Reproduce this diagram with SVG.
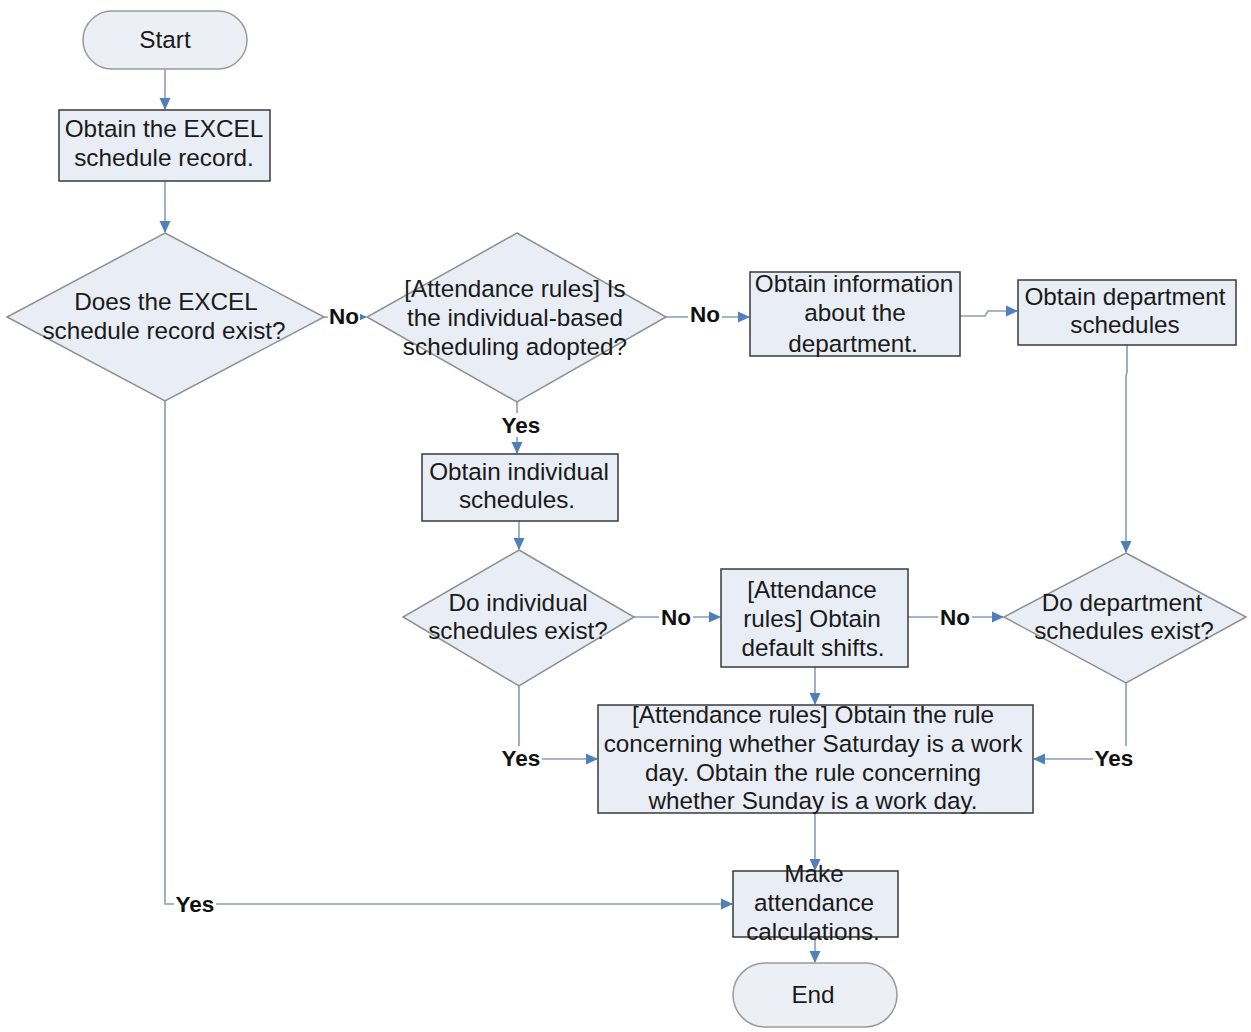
<svg xmlns="http://www.w3.org/2000/svg" width="1251" height="1032" viewBox="0 0 1251 1032">
<style>
.t{font-family:"Liberation Sans",Arial,sans-serif;font-size:24.3px;fill:#1a1a1a;text-anchor:middle}
.l{font-family:"Liberation Sans",Arial,sans-serif;font-size:22.5px;font-weight:bold;fill:#111;text-anchor:middle}
.box{fill:#e9edf5;stroke:#3a3a3a;stroke-width:1.5}
.dia{fill:#e9edf5;stroke:#8f8f8f;stroke-width:1.5}
.term{fill:#eceff6;stroke:#9a9a9a;stroke-width:1.5}
.c{fill:none;stroke:#8a9cb8;stroke-width:1.6}
</style>
<defs>
<marker id="a" viewBox="0 0 12 12" refX="11" refY="6" markerWidth="12" markerHeight="12" markerUnits="userSpaceOnUse" orient="auto">
<path d="M0,0.5 L12,6 L0,11.5 z" fill="#4f7fbd"/>
</marker>
</defs>
<rect width="1251" height="1032" fill="#ffffff"/>
<g id="connectors">
<path class="c" d="M165,69 V109" marker-end="url(#a)"/>
<path class="c" d="M165,181 V232" marker-end="url(#a)"/>
<path class="c" d="M324,317 H366" marker-end="url(#a)"/>
<path class="c" d="M666,317 H749" marker-end="url(#a)"/>
<path class="c" d="M960,316 H985 L988,311 H1017" marker-end="url(#a)"/>
<path class="c" d="M517,402 V453" marker-end="url(#a)"/>
<path class="c" d="M519,521 V549" marker-end="url(#a)"/>
<path class="c" d="M634,617 H720" marker-end="url(#a)"/>
<path class="c" d="M908,617 H1003" marker-end="url(#a)"/>
<path class="c" d="M1127,345 V372 L1126,376 V552" marker-end="url(#a)"/>
<path class="c" d="M519,686 V759 H597" marker-end="url(#a)"/>
<path class="c" d="M815,667 V704" marker-end="url(#a)"/>
<path class="c" d="M1126,683 V759 H1034" marker-end="url(#a)"/>
<path class="c" d="M815,813 V870" marker-end="url(#a)"/>
<path class="c" d="M165,401 V904 H732" marker-end="url(#a)"/>
<path class="c" d="M815,937 V962" marker-end="url(#a)"/>
<g>
<rect x="328" y="303" width="32" height="24" fill="#fff"/>
<text class="l" x="344" y="324">No</text>
<rect x="688" y="303" width="34" height="24" fill="#fff"/>
<text class="l" x="705" y="322">No</text>
<rect x="500" y="413" width="42" height="24" fill="#fff"/>
<text class="l" x="521" y="433">Yes</text>
<rect x="659" y="605" width="34" height="24" fill="#fff"/>
<text class="l" x="676" y="625">No</text>
<rect x="938" y="605" width="34" height="24" fill="#fff"/>
<text class="l" x="955" y="625">No</text>
<rect x="500" y="746" width="42" height="24" fill="#fff"/>
<text class="l" x="521" y="766">Yes</text>
<rect x="1093" y="746" width="42" height="24" fill="#fff"/>
<text class="l" x="1114" y="766">Yes</text>
<rect x="174" y="892" width="42" height="24" fill="#fff"/>
<text class="l" x="195" y="912">Yes</text>
</g>
</g>
<g id="start">
<rect class="term" x="83" y="11" width="164" height="58" rx="29" ry="29"/>
<text class="t" x="165" y="48">Start</text>
</g>
<g id="obtain-excel">
<rect class="box" x="59" y="110" width="211" height="71"/>
<text class="t" x="164" y="137">Obtain the EXCEL</text>
<text class="t" x="164" y="166">schedule record.</text>
</g>
<g id="excel-exist">
<polygon class="dia" points="165,233 324,317 165,401 7,317"/>
<text class="t" x="166" y="310">Does the EXCEL</text>
<text class="t" x="164" y="339">schedule record exist?</text>
</g>
<g id="individual-adopted">
<polygon class="dia" points="517,233 666,317 517,402 367,317"/>
<text class="t" x="515" y="297">[Attendance rules] Is</text>
<text class="t" x="515" y="326">the individual-based</text>
<text class="t" x="515" y="355">scheduling adopted?</text>
</g>
<g id="obtain-dept-info">
<rect class="box" x="750" y="272" width="210" height="84"/>
<text class="t" x="854" y="292">Obtain information</text>
<text class="t" x="855" y="321">about the</text>
<text class="t" x="853" y="352">department.</text>
</g>
<g id="obtain-dept-schedules">
<rect class="box" x="1018" y="280" width="218" height="65"/>
<text class="t" x="1125" y="305">Obtain department</text>
<text class="t" x="1125" y="333">schedules</text>
</g>
<g id="obtain-individual">
<rect class="box" x="422" y="454" width="196" height="67"/>
<text class="t" x="519" y="480">Obtain individual</text>
<text class="t" x="517" y="508">schedules.</text>
</g>
<g id="individual-exist">
<polygon class="dia" points="519,550 634,617 519,686 403,617"/>
<text class="t" x="518" y="611">Do individual</text>
<text class="t" x="518" y="639">schedules exist?</text>
</g>
<g id="default-shifts">
<rect class="box" x="721" y="569" width="187" height="98"/>
<text class="t" x="812" y="598">[Attendance</text>
<text class="t" x="812" y="627">rules] Obtain</text>
<text class="t" x="813" y="656">default shifts.</text>
</g>
<g id="dept-exist">
<polygon class="dia" points="1126,553 1246,617 1126,683 1004,617"/>
<text class="t" x="1122" y="611">Do department</text>
<text class="t" x="1124" y="639">schedules exist?</text>
</g>
<g id="workday-rules">
<rect class="box" x="598" y="705" width="435" height="108"/>
<text class="t" x="813" y="723">[Attendance rules] Obtain the rule</text>
<text class="t" x="813" y="752">concerning whether Saturday is a work</text>
<text class="t" x="813" y="781">day. Obtain the rule concerning</text>
<text class="t" x="813" y="809">whether Sunday is a work day.</text>
</g>
<g id="calculate">
<rect class="box" x="733" y="871" width="165" height="66"/>
<text class="t" x="814" y="882">Make</text>
<text class="t" x="814" y="911">attendance</text>
<text class="t" x="813" y="940">calculations.</text>
</g>
<g id="end">
<rect class="term" x="733" y="963" width="164" height="64" rx="32" ry="32"/>
<text class="t" x="813" y="1003">End</text>
</g>
</svg>
